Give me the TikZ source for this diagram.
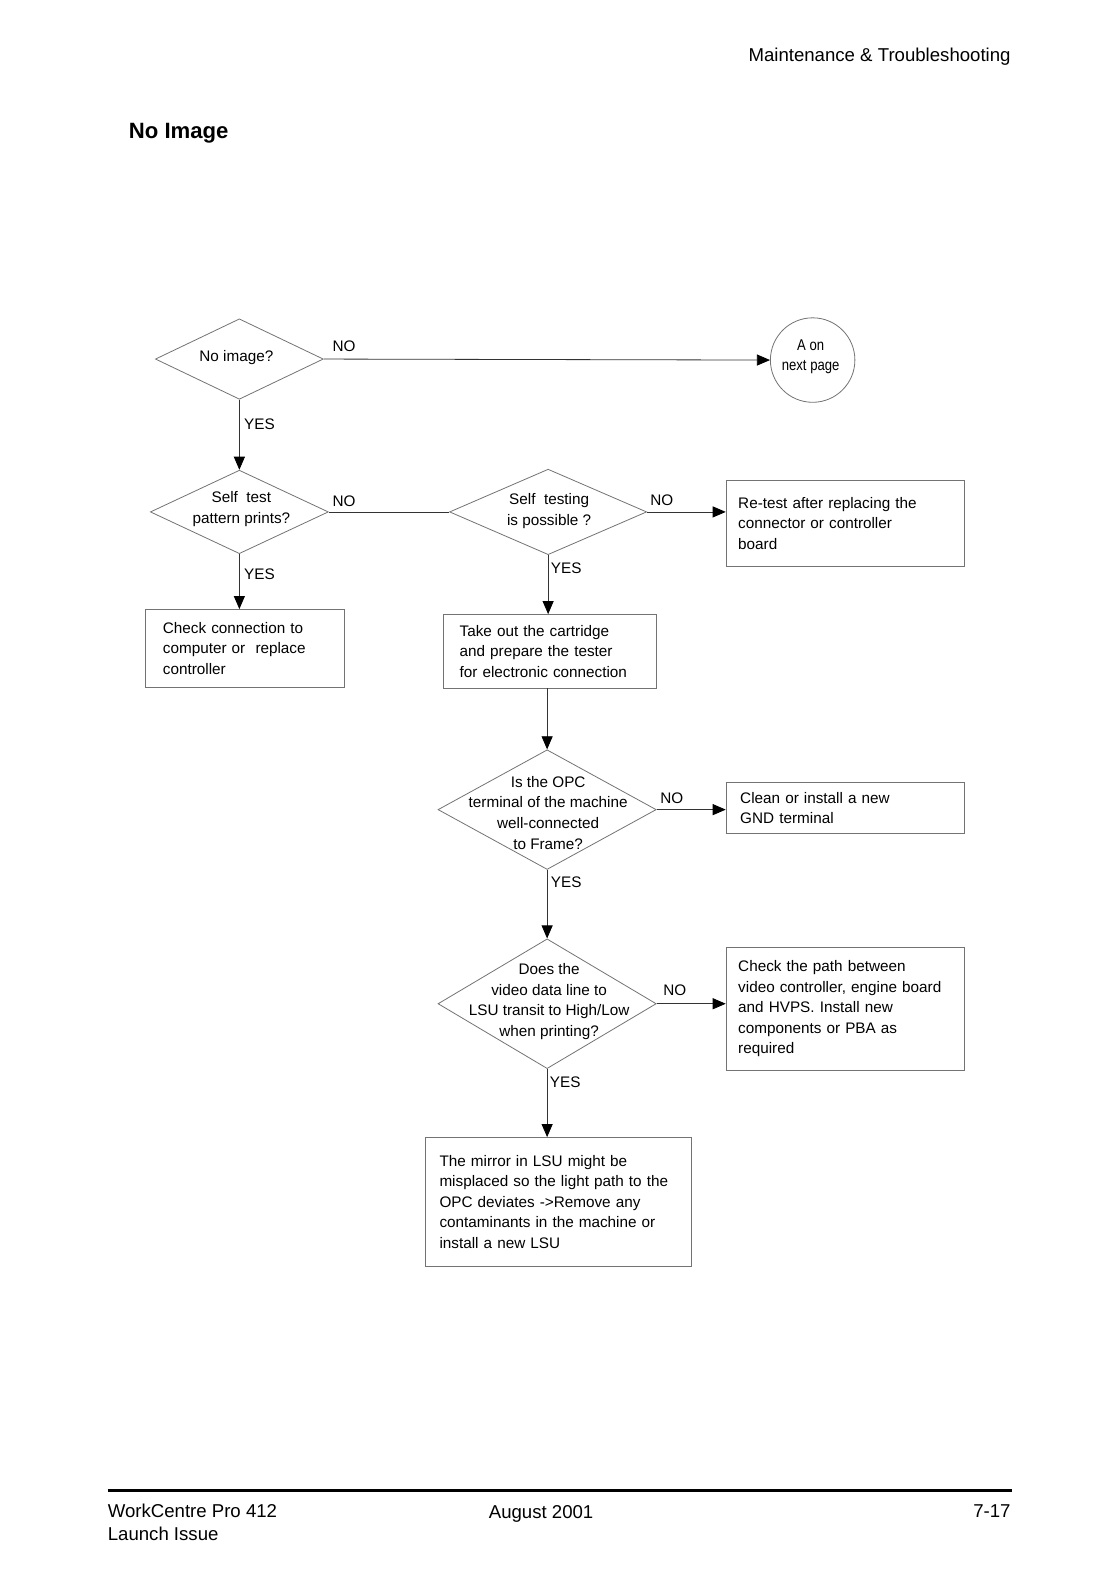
\documentclass[tikz,border=0pt]{standalone}
\usepackage{fontspec}
\setmainfont{Liberation Sans}
\newfontfamily\condfont[FakeStretch=0.84]{Liberation Sans}
\usetikzlibrary{arrows.meta,shapes.geometric}
\begin{document}
\begin{tikzpicture}[x=1pt,y=-1pt,
  every node/.style={font=\fontsize{15.2}{20.5}\selectfont},
  dec/.style={diamond, draw=black!55, line width=0.8pt, inner sep=0pt},
  act/.style={rectangle, draw=black!55, line width=0.8pt, align=left, inner ysep=0pt},
  txt/.style={align=center, inner sep=0pt},
  flow/.style={draw=black!80, line width=0.8pt},
  arr/.style={flow, -{Triangle[length=13pt,width=11pt,fill=black,color=black]}},
  lbl/.style={inner sep=0pt},
  hdr/.style={inner sep=0pt, font=\fontsize{18.5}{23}\selectfont}]
\useasboundingbox (0,0) rectangle (1109,1568);

% header
\node[hdr, anchor=east] (head) at (1005,56) {Maintenance \& Troubleshooting};
\node[inner sep=0pt, anchor=west, font=\fontsize{22}{26}\selectfont\bfseries] (title) at (128,132) {No Image};

% decisions
\node[dec, minimum width=167pt, minimum height=80pt] (d1) at (238,357) {};
\node[txt] (d1t) at (235,356) {No image?};
\node[dec, minimum width=177pt, minimum height=83pt] (d2) at (238,509) {};
\node[txt] (d2t) at (240,506) {Self\ \ test\\pattern prints?};
\node[dec, minimum width=196pt, minimum height=85pt] (d3) at (545,509) {};
\node[txt] (d3t) at (546,508) {Self\ \ testing\\is possible ?};
\node[dec, minimum width=217pt, minimum height=119pt] (d4) at (544,805) {};
\node[txt] (d4t) at (545,808) {Is the OPC\\terminal of the machine\\well-connected\\to Frame?};
\node[dec, minimum width=217pt, minimum height=129pt] (d5) at (544,998) {};
\node[txt] (d5t) at (546,996) {Does the\\video data line to\\LSU transit to High/Low\\when printing?};

% terminator
\node[circle, draw=black!55, line width=0.8pt, minimum size=84pt, inner sep=0pt] (aon) at (808,358) {};
\node[txt, font=\condfont\fontsize{15.5}{19.5}\selectfont] (aont) at (806,355) {A on\\next page};

% actions
\node[act, text width=163pt, inner xsep=17pt, minimum height=77pt] (chk) at (243.5,644.5)
  {Check connection to\\computer or\ \ replace\\controller};
\node[act, text width=213pt, inner xsep=12pt, minimum height=85pt] (retest) at (840.5,520.5)
  {Re-test after replacing the\\connector or controller\\board};
\node[act, text width=180pt, inner xsep=16pt, minimum height=73pt] (take) at (547,647.5)
  {Take out the cartridge\\and prepare the tester\\for electronic connection};
\node[act, text width=209pt, inner xsep=14pt, minimum height=51pt] (clean) at (840.5,803.5)
  {Clean or install a new\\GND terminal};
\node[act, text width=213pt, inner xsep=12pt, minimum height=122pt] (path) at (840.5,1003)
  {Check the path between\\video controller, engine board\\and HVPS. Install new\\components or PBA as\\required};
\node[act, text width=236pt, inner xsep=14pt, minimum height=128pt] (mirror) at (555,1195)
  {The mirror in LSU might be\\misplaced so the light path to the\\OPC deviates ->Remove any\\contaminants in the machine or\\install a new LSU};

% connectors
\draw[arr] (d1.east) -- (aon.west);
\draw[arr] (d1.south) -- (d2.north);
\draw[flow] (d2.east) -- (d3.west);
\draw[arr] (d3.east) -- (d3.east -| retest.west);
\draw[arr] (d2.south) -- (d2.south |- chk.north);
\draw[arr] (d3.south) -- (d3.south |- take.north);
\draw[arr] (d4.north |- take.south) -- (d4.north);
\draw[arr] (d4.east) -- (d4.east -| clean.west);
\draw[arr] (d4.south) -- (d5.north);
\draw[arr] (d5.east) -- (d5.east -| path.west);
\draw[arr] (d5.south) -- (d5.south |- mirror.north);

% labels
\node[lbl] (no1) at (342,344) {NO};
\node[lbl] (yes1) at (258,422) {YES};
\node[lbl] (no2) at (342,498) {NO};
\node[lbl] (yes2) at (258,571) {YES};
\node[lbl] (no3) at (658,497) {NO};
\node[lbl] (yes3) at (563,565) {YES};
\node[lbl] (no4) at (668,794) {NO};
\node[lbl] (yes4) at (563,877) {YES};
\node[lbl] (no5) at (671,985) {NO};
\node[lbl] (yes5) at (562,1076) {YES};

% footer
\draw[line width=2.2pt] (107,1482) -- (1006,1482);
\node[hdr, anchor=west] (foot1) at (107,1502) {WorkCentre Pro 412};
\node[hdr, anchor=west] (foot2) at (107,1525) {Launch Issue};
\node[hdr] (foot3) at (538,1505) {August 2001};
\node[hdr, anchor=east] (foot4) at (1005,1502) {7-17};
\end{tikzpicture}
\end{document}
